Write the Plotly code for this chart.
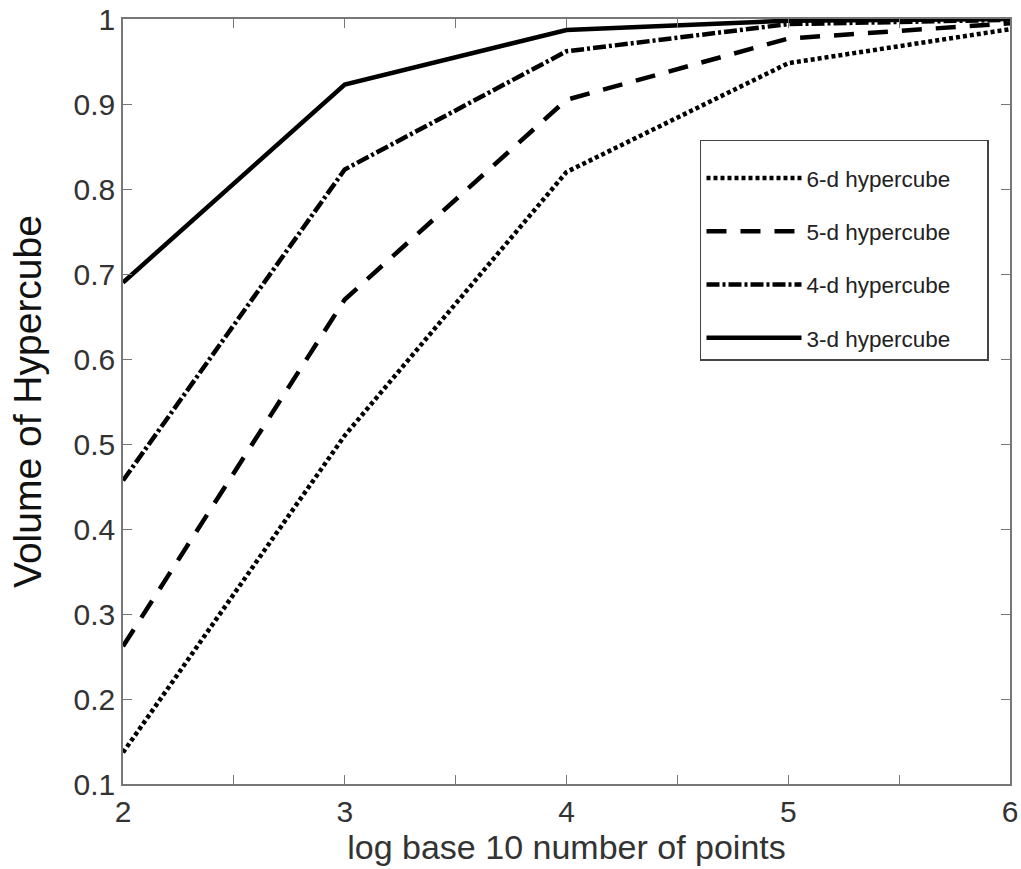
import plotly.graph_objects as go

x_vals = [2, 3, 4, 5, 6]
d6 = [0.137, 0.510, 0.820, 0.948, 0.988]
d5 = [0.262, 0.670, 0.905, 0.977, 0.995]
d4 = [0.457, 0.823, 0.962, 0.994, 0.999]
d3 = [0.690, 0.923, 0.987, 0.998, 1.000]
series_names = ["6-d hypercube", "5-d hypercube", "4-d hypercube", "3-d hypercube"]
x_tickvals = [2, 2.5, 3, 3.5, 4, 4.5, 5, 5.5, 6]
x_ticktext = ["2", "", "3", "", "4", "", "5", "", "6"]
y_tickvals = [0.1, 0.2, 0.3, 0.4, 0.5, 0.6, 0.7, 0.8, 0.9, 1.0]
y_ticktext = ["0.1", "0.2", "0.3", "0.4", "0.5", "0.6", "0.7", "0.8", "0.9", "1"]

styles = ["4px,3px", "20px,14px", "13px,3px,3px,3px", "solid"]

fig = go.Figure()
for i, (name, ys, dash) in enumerate(zip(series_names, [d6, d5, d4, d3], styles)):
    fig.add_trace(go.Scatter(x=x_vals, y=ys, mode="lines",
                             name=name + "\u00a0\u00a0\u00a0\u00a0\u00a0",
                             legendgroup=f"g{i}",
                             line=dict(color="black", width=4.5, dash=dash)))

FONT = "Liberation Sans, Arial, sans-serif"
axis_common = dict(showgrid=False, zeroline=False, showline=True, linecolor="#777777",
                   linewidth=1.5, mirror="ticks", ticks="inside", ticklen=9,
                   tickcolor="#777777", automargin=False,
                   tickfont=dict(size=30, color="#333333", family=FONT))

fig.update_xaxes(range=[2, 6], tickvals=x_tickvals, ticktext=x_ticktext,
                 title=dict(text="log base 10 number of points", standoff=2,
                            font=dict(size=34, color="#333333", family=FONT)), **axis_common)
fig.update_yaxes(range=[0.1, 1.0], tickvals=y_tickvals, ticktext=y_ticktext,
                 title=dict(text="Volume of Hypercube", standoff=20,
                            font=dict(size=39, color="#111111", family=FONT)), **axis_common)

fig.update_layout(
    width=1021, height=869,
    margin=dict(l=123, r=11, t=19, b=85),
    plot_bgcolor="white", paper_bgcolor="white",
    font=dict(family=FONT, color="#222222"),
    showlegend=True,
    legend=dict(x=0.6505, y=0.842, xanchor="left", yanchor="top",
                bordercolor="#444444", borderwidth=1.5, bgcolor="white",
                font=dict(size=22.5, color="#222222", family=FONT), itemwidth=95,
                title=dict(text="\u00a0", font=dict(size=12)),
                traceorder="grouped", tracegroupgap=21, valign="middle"),
)

fig.write_html("out.html")
